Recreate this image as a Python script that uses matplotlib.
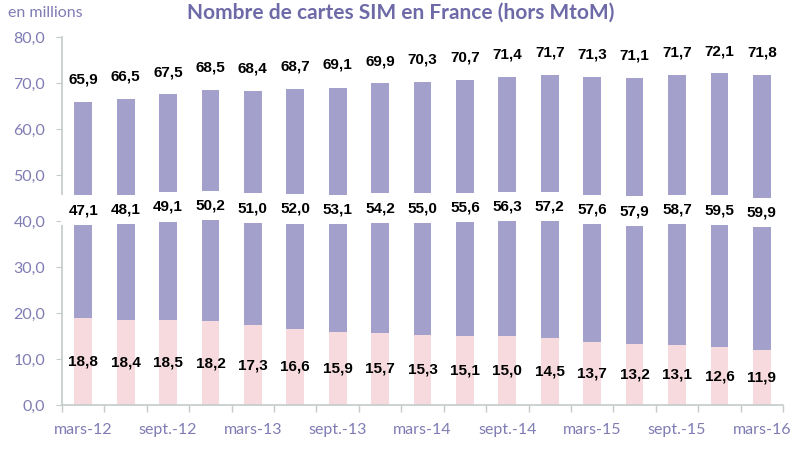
import numpy as np
import matplotlib
matplotlib.use('Agg')
from matplotlib import pyplot as plt

# quarterly, mars-12 .. mars-16
periods = ['mars-12', 'juin-12', 'sept.-12', 'déc.-12',
           'mars-13', 'juin-13', 'sept.-13', 'déc.-13',
           'mars-14', 'juin-14', 'sept.-14', 'déc.-14',
           'mars-15', 'juin-15', 'sept.-15', 'déc.-15',
           'mars-16']
prepaid = [18.8, 18.4, 18.5, 18.2, 17.3, 16.6, 15.9, 15.7, 15.3,
           15.1, 15.0, 14.5, 13.7, 13.2, 13.1, 12.6, 11.9]
postpaid = [47.1, 48.1, 49.1, 50.2, 51.0, 52.0, 53.1, 54.2, 55.0,
            55.6, 56.3, 57.2, 57.6, 57.9, 58.7, 59.5, 59.9]
totals = [65.9, 66.5, 67.5, 68.5, 68.4, 68.7, 69.1, 69.9, 70.3,
          70.7, 71.4, 71.7, 71.3, 71.1, 71.7, 72.1, 71.8]

purple = '#a3a0cb'
pink = '#f6dadd'
axis_text = '#7f7cb4'
spine_col = '#c3cbcb'

fig = plt.figure(figsize=(8, 4.5), dpi=100)
ax = fig.add_axes([0.0775, 0.1, 0.9013, 0.818])

x = np.arange(len(periods))
w = 0.42
ax.bar(x, prepaid, width=w, color=pink, zorder=2)
ax.bar(x, postpaid, width=w, bottom=prepaid, color=purple, zorder=2)

lab_font = dict(family='Liberation Sans', fontsize=11, fontweight='bold', color='black')
for i in range(len(x)):
    fmt = lambda v: '{:.1f}'.format(v).replace('.', ',')
    ax.text(x[i], prepaid[i] / 2, fmt(prepaid[i]), ha='center', va='center', zorder=4, **lab_font)
    ax.text(x[i], prepaid[i] + postpaid[i] / 2, fmt(postpaid[i]), ha='center', va='center', zorder=4,
            bbox=dict(boxstyle='square,pad=0.5', fc='white', ec='none'), **lab_font)
    ax.annotate(fmt(totals[i]), (x[i], totals[i]), xytext=(0, 16), textcoords='offset points',
                ha='center', va='center', zorder=4, **lab_font)

ax.set_xlim(-0.5, len(x) - 0.5)
ax.set_ylim(0, 80)
ax.set_yticks(np.arange(0, 81, 10))
ax.set_yticklabels(['{:.1f}'.format(v).replace('.', ',') for v in np.arange(0, 81, 10)])
ax.set_xticks(x[::2])
ax.set_xticklabels(periods[::2])
ax.set_xticks(np.arange(-0.5, len(x)), minor=True)
ax.tick_params(axis='x', which='major', length=0, pad=13, labelsize=11.5, labelcolor=axis_text)
ax.tick_params(axis='x', which='minor', length=5, color=spine_col, width=1)
ax.tick_params(axis='y', length=4, color=spine_col, labelsize=11.5, labelcolor=axis_text, pad=8)
for lbl in ax.get_xticklabels() + ax.get_yticklabels():
    lbl.set_family('Lato')

for s in ['top', 'right']:
    ax.spines[s].set_visible(False)
for s in ['left', 'bottom']:
    ax.spines[s].set_color(spine_col)
    ax.spines[s].set_linewidth(1.2)

fig.text(0.501, 0.972, 'Nombre de cartes SIM en France (hors MtoM)', ha='center', va='center',
         family='Lato', fontsize=15, fontweight='bold', color='#6e6aa8')
fig.text(0.01, 0.972, 'en millions', ha='left', va='center', family='Lato', fontsize=11.5,
         color='#7f7cb4')

fig.savefig('out.png', dpi=100)
